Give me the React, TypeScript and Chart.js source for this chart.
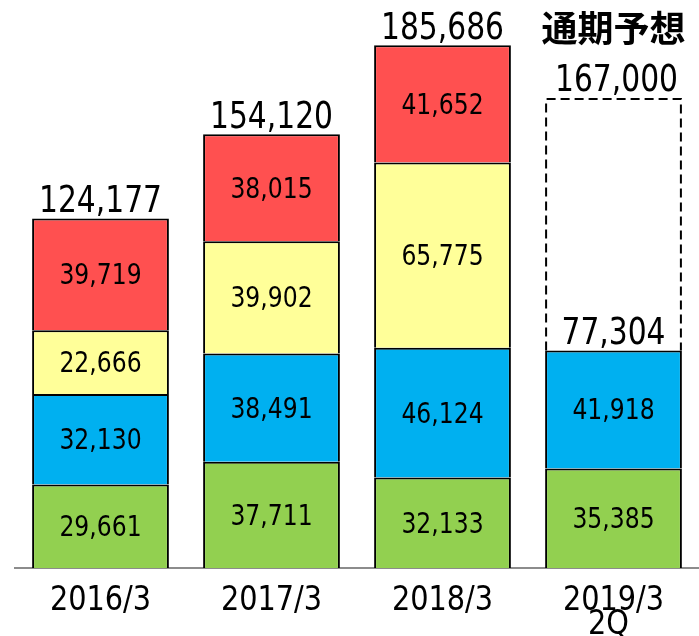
import React, { useEffect, useRef } from "react";
import { Chart, registerables } from "chart.js";

Chart.register(...registerables);

const categories: string[][] = [["2016/3"], ["2017/3"], ["2018/3"], ["2019/3", "2Q"]];
const greenValues = [29661, 37711, 32133, 35385];
const blueValues = [32130, 38491, 46124, 41918];
const yellowValues: (number | null)[] = [22666, 39902, 65775, null];
const redValues: (number | null)[] = [39719, 38015, 41652, null];
const totalValues = [124177, 154120, 185686, 77304];
const forecastTotal = 167000;
const forecastIndex = 3;
const forecastTitle = "通期予想";

const FONT = "'DejaVu Sans Condensed', 'DejaVu Sans', sans-serif";

const fmt = (v: number) => v.toLocaleString("en-US");

function drawText(
  ctx: CanvasRenderingContext2D,
  text: string,
  x: number,
  y: number,
  font: string,
  sx: number
) {
  ctx.save();
  ctx.translate(x, y);
  ctx.scale(sx, 1);
  ctx.font = font;
  ctx.textAlign = "center";
  ctx.textBaseline = "alphabetic";
  ctx.fillText(text, 0, 0);
  ctx.restore();
}

export default function App() {
  const ref = useRef<HTMLCanvasElement | null>(null);

  useEffect(() => {
    const canvas = ref.current;
    if (!canvas) return;

    const stackTops = categories.map(
      (_, i) =>
        (greenValues[i] || 0) + (blueValues[i] || 0) + (yellowValues[i] || 0) + (redValues[i] || 0)
    );
    const forecastValues = categories.map((_, i) =>
      i === forecastIndex ? forecastTotal - stackTops[i] : null
    );

    const labelPlugin = {
      id: "labels",
      afterDatasetsDraw(chart: any) {
        const ctx = chart.ctx as CanvasRenderingContext2D;
        ctx.save();
        ctx.fillStyle = "#000";
        // segment values
        for (let d = 0; d < 4; d++) {
          const meta = chart.getDatasetMeta(d);
          meta.data.forEach((el: any, i: number) => {
            const v = chart.data.datasets[d].data[i];
            if (v == null) return;
            drawText(ctx, fmt(v), el.x, (el.y + el.base) / 2 + 10, `29px ${FONT}`, 0.9);
          });
        }
        // totals
        const yScale = chart.scales.y;
        const xMeta = chart.getDatasetMeta(0);
        totalValues.forEach((t, i) => {
          const x = xMeta.data[i].x;
          drawText(ctx, fmt(t), x, yScale.getPixelForValue(stackTops[i]) - 6, `38px ${FONT}`, 0.87);
        });
        // forecast dashed box
        const fMeta = chart.getDatasetMeta(4);
        const el: any = fMeta.data[forecastIndex];
        if (el) {
          const left = el.x - el.width / 2 + 1;
          const right = el.x + el.width / 2 - 1;
          ctx.setLineDash([9, 5]);
          ctx.lineWidth = 2;
          ctx.strokeStyle = "#000";
          ctx.beginPath();
          ctx.moveTo(left, el.base);
          ctx.lineTo(left, el.y + 1);
          ctx.lineTo(right, el.y + 1);
          ctx.lineTo(right, el.base);
          ctx.stroke();
          ctx.setLineDash([]);
          drawText(ctx, fmt(forecastTotal), el.x + 3, el.y - 7, `38px ${FONT}`, 0.87);
          ctx.font = `bold 36px 'Noto Sans CJK JP', sans-serif`;
          ctx.textAlign = "center";
          ctx.textBaseline = "middle";
          ctx.fillText(forecastTitle, el.x, 28);
        }
        // x tick labels
        const xScale = chart.scales.x;
        categories.forEach((lines, i) => {
          const x = xScale.getPixelForTick(i);
          lines.forEach((ln, k) => {
            drawText(ctx, ln, k === 0 ? x : x - 5, 610 + k * 24, `34px ${FONT}`, 0.94);
          });
        });
        ctx.restore();
      },
    };

    const chart = new Chart(canvas, {
      type: "bar",
      data: {
        labels: categories as any,
        datasets: [
          { label: "A", data: greenValues, backgroundColor: "#92D050" },
          { label: "B", data: blueValues, backgroundColor: "#00B0F0" },
          { label: "C", data: yellowValues, backgroundColor: "#FFFF99" },
          { label: "D", data: redValues, backgroundColor: "#FF5050" },
          {
            label: "E",
            data: forecastValues,
            backgroundColor: "rgba(0,0,0,0)",
            borderWidth: 0,
          },
        ],
      },
      options: {
        responsive: false,
        animation: false,
        layout: { padding: { left: 15, right: 0, top: 5, bottom: 0 } },
        datasets: {
          bar: {
            borderColor: "#000",
            borderWidth: 2,
            categoryPercentage: 1,
            barPercentage: 0.8,
          },
        },
        plugins: { legend: { display: false }, tooltip: { enabled: false } },
        scales: {
          x: {
            stacked: true,
            grid: { display: false, drawTicks: false },
            border: { display: true, color: "#8c8c8c", width: 2 },
            ticks: { display: false },
            afterFit: (scale: any) => {
              scale.height = 68;
            },
          },
          y: {
            stacked: true,
            display: false,
            min: 0,
            max: 200000,
          },
        },
      },
      plugins: [labelPlugin],
    });

    return () => chart.destroy();
  }, []);

  return (
    <div style={{ position: "absolute", left: 0, top: 0, width: 699, height: 636, overflow: "hidden" }}>
      <canvas ref={ref} width={699} height={636} style={{ display: "block" }} />
    </div>
  );
}
